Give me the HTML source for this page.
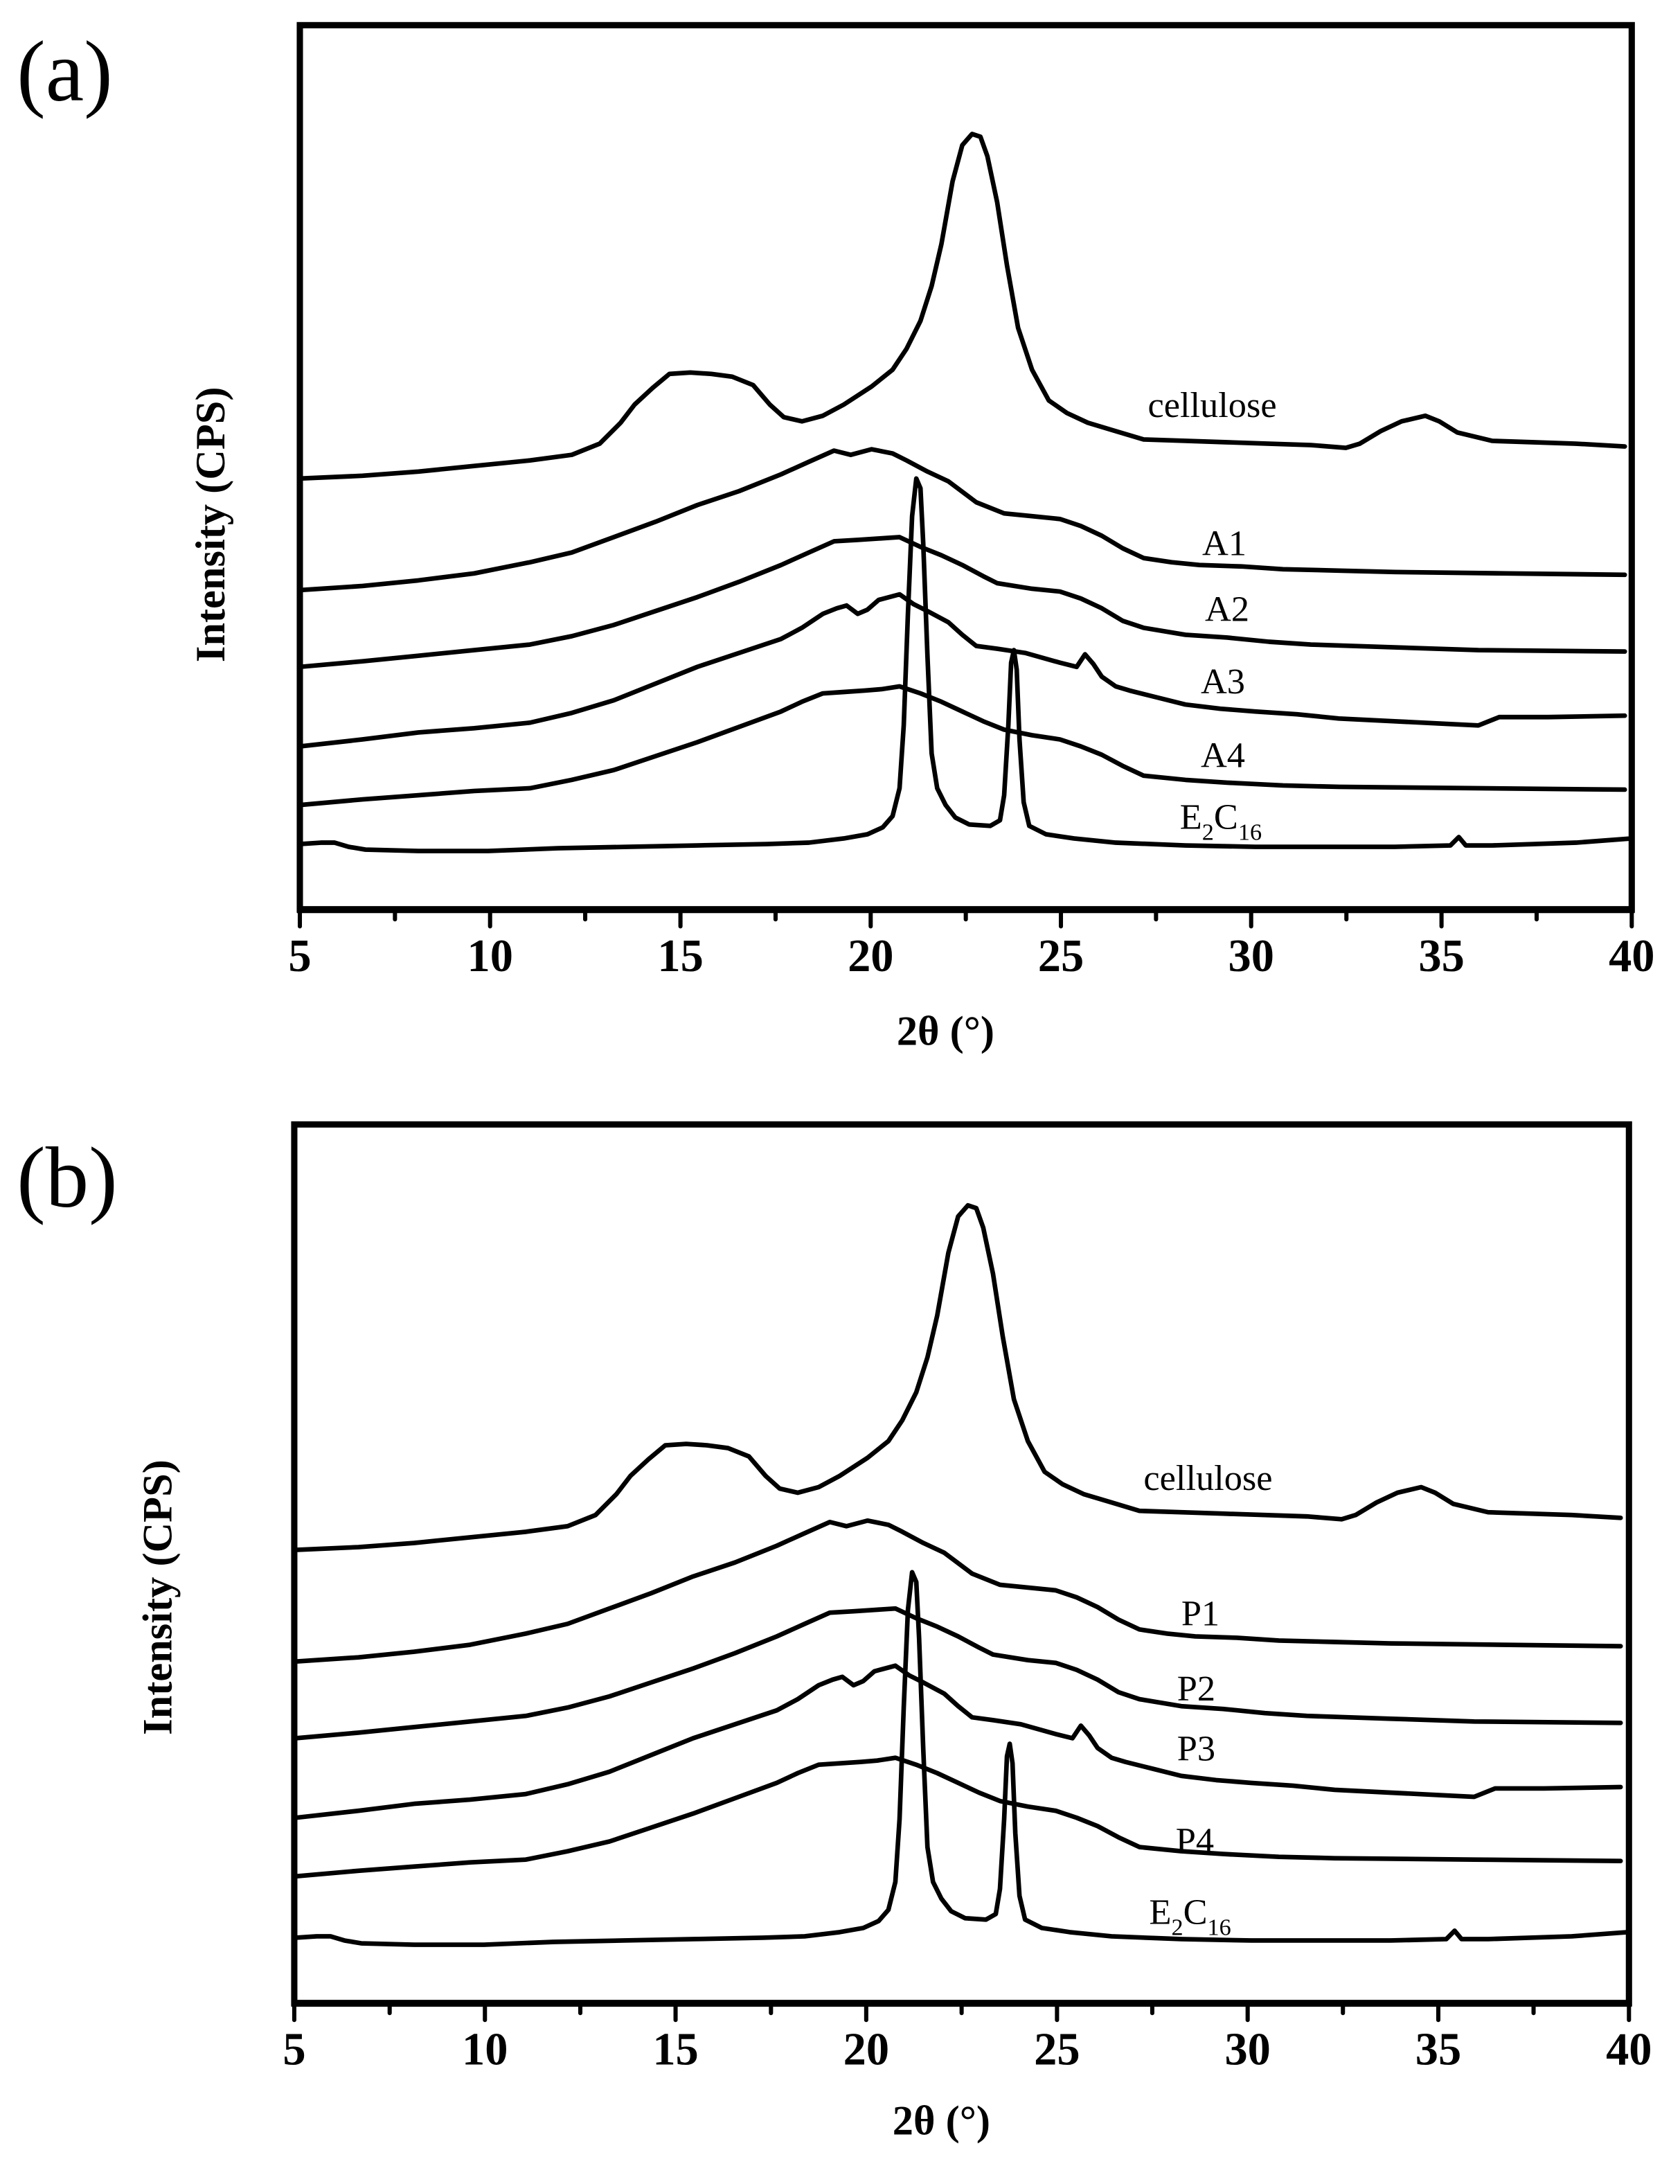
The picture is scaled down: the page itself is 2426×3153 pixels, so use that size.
<!DOCTYPE html>
<html><head><meta charset="utf-8"><style>
html,body{margin:0;padding:0;background:#fff}
svg{display:block}
text{font-family:"Liberation Serif",serif;fill:#000}
.tk{font-weight:bold;font-size:33px}
.lb{font-size:26px}
.ax{font-weight:bold;font-size:30px}
.c{fill:none;stroke:#000;stroke-width:3.3;stroke-linejoin:round;stroke-linecap:round}
</style></head><body>
<svg width="2426" height="3153" viewBox="0 0 1204.6 1565.5" xmlns="http://www.w3.org/2000/svg">
<defs>
<g id="curvesTop">
<polyline class="c" points="215,343 260,341 300,338 340,334 380,330 410,326 430,318 445,303 455,290 468,278 480,268 495,267 510,268 525,270 540,276 552,290 562,299 575,302 590,298 605,290 625,277 640,265 650,250 660,230 668,205 675,175 683,130 690,104 697,96 703,98 708,112 715,145 722,190 730,235 740,265 752,287 765,296 780,303 800,309 820,315 850,316 880,317 910,318 940,319 965,321 975,318 990,309 1005,302 1022,298 1032,302 1045,310 1070,316 1100,317 1130,318 1165,320"/>
<polyline class="c" points="215,423 260,420 300,416 340,411 380,403 410,396 440,385 470,374 500,362 530,352 560,340 580,331 598,323 610,326 625,322 640,325 650,330 665,338 680,345 700,360 720,368 740,370 760,372 775,377 790,384 805,393 820,400 840,403 860,405 890,406 920,408 960,409 1000,410 1080,411 1165,412"/>
<polyline class="c" points="215,478 260,474 300,470 340,466 380,462 410,456 440,448 470,438 500,428 530,417 560,405 580,396 598,388 615,387 630,386 645,385 660,392 675,398 690,405 705,413 715,418 740,422 760,424 775,429 790,436 805,445 820,450 850,455 880,457 910,460 940,462 1000,464 1060,466 1165,467"/>
<polyline class="c" points="215,535 260,530 300,525 340,522 380,518 410,511 440,502 470,490 500,478 530,468 560,458 575,450 590,440 600,436 607,434 615,440 622,437 630,430 645,426 655,433 665,438 680,446 690,455 700,463 715,465 735,468 760,475 772,478 778,469 784,476 790,485 800,492 810,495 830,500 850,505 875,508 900,510 930,512 960,515 1000,517 1040,519 1060,520 1075,514 1110,514 1165,513"/>
<polyline class="c" points="215,577 260,573 300,570 340,567 380,565 410,559 440,552 470,542 500,532 530,521 560,510 575,503 590,497 605,496 620,495 632,494 645,492 660,497 675,503 690,510 705,517 720,523 740,527 760,530 775,535 790,541 805,549 820,556 850,559 880,561 920,563 960,564 1060,565 1165,566"/>
</g>
<g id="curveE">
<polyline class="c" points="215,605 230,604 240,604 250,607 262,609 300,610 350,610 400,608 450,607 500,606 550,605 580,604 605,601 622,598 633,593 640,585 645,565 648,520 651,440 654,370 657,343 660,350 662,390 665,470 668,540 672,565 678,577 685,586 695,591 710,592 717,588 720,570 723,520 725,475 727,466 729,480 731,530 734,575 738,592 750,598 770,601 800,604 850,606 900,607 950,607 1000,607 1040,606 1046,600 1051,606 1070,606 1100,605 1130,604 1170,601"/>
</g>
</defs>

<!-- Panel (a) -->
<text x="12" y="72" style="font-size:62px">(a)</text>
<rect x="215" y="18" width="955" height="634" fill="none" stroke="#000" stroke-width="4.5"/>
<line x1="213" y1="652" x2="1172" y2="652" stroke="#000" stroke-width="5"/>
<g stroke="#000" stroke-width="3" stroke-linecap="round">
<line x1="215" y1="652" x2="215" y2="664"/><line x1="351.4" y1="652" x2="351.4" y2="664"/><line x1="487.9" y1="652" x2="487.9" y2="664"/><line x1="624.3" y1="652" x2="624.3" y2="664"/><line x1="760.7" y1="652" x2="760.7" y2="664"/><line x1="897.1" y1="652" x2="897.1" y2="664"/><line x1="1033.6" y1="652" x2="1033.6" y2="664"/><line x1="1170" y1="652" x2="1170" y2="664"/>
<line x1="283.2" y1="652" x2="283.2" y2="659"/><line x1="419.6" y1="652" x2="419.6" y2="659"/><line x1="556.1" y1="652" x2="556.1" y2="659"/><line x1="692.5" y1="652" x2="692.5" y2="659"/><line x1="828.9" y1="652" x2="828.9" y2="659"/><line x1="965.4" y1="652" x2="965.4" y2="659"/><line x1="1101.8" y1="652" x2="1101.8" y2="659"/>
</g>
<g text-anchor="middle">
<text class="tk" x="215" y="696">5</text><text class="tk" x="351.4" y="696">10</text><text class="tk" x="487.9" y="696">15</text><text class="tk" x="624.3" y="696">20</text><text class="tk" x="760.7" y="696">25</text><text class="tk" x="897.1" y="696">30</text><text class="tk" x="1033.6" y="696">35</text><text class="tk" x="1170" y="696">40</text>
</g>
<text class="ax" x="678" y="749" text-anchor="middle">2θ (°)</text>
<text class="ax" transform="translate(161,376) rotate(-90)" text-anchor="middle">Intensity (CPS)</text>
<use href="#curvesTop"/>
<use href="#curveE"/>
<text class="lb" x="823" y="299">cellulose</text>
<text class="lb" x="862" y="398">A1</text>
<text class="lb" x="864" y="445">A2</text>
<text class="lb" x="861" y="497">A3</text>
<text class="lb" x="861" y="550">A4</text>
<text class="lb" x="846" y="594">E<tspan font-size="17" dy="8">2</tspan><tspan dy="-8">C</tspan><tspan font-size="17" dy="8">16</tspan></text>

<!-- Panel (b) -->
<text x="12" y="865" style="font-size:62px">(b)</text>
<rect x="211" y="806" width="957" height="630" fill="none" stroke="#000" stroke-width="4.5"/>
<line x1="209" y1="1436" x2="1170" y2="1436" stroke="#000" stroke-width="5"/>
<g stroke="#000" stroke-width="3" stroke-linecap="round">
<line x1="211" y1="1436" x2="211" y2="1448"/><line x1="347.7" y1="1436" x2="347.7" y2="1448"/><line x1="484.4" y1="1436" x2="484.4" y2="1448"/><line x1="621.1" y1="1436" x2="621.1" y2="1448"/><line x1="757.9" y1="1436" x2="757.9" y2="1448"/><line x1="894.6" y1="1436" x2="894.6" y2="1448"/><line x1="1031.3" y1="1436" x2="1031.3" y2="1448"/><line x1="1168" y1="1436" x2="1168" y2="1448"/>
<line x1="279.4" y1="1436" x2="279.4" y2="1443"/><line x1="416.1" y1="1436" x2="416.1" y2="1443"/><line x1="552.8" y1="1436" x2="552.8" y2="1443"/><line x1="689.5" y1="1436" x2="689.5" y2="1443"/><line x1="826.2" y1="1436" x2="826.2" y2="1443"/><line x1="962.9" y1="1436" x2="962.9" y2="1443"/><line x1="1099.6" y1="1436" x2="1099.6" y2="1443"/>
</g>
<g text-anchor="middle">
<text class="tk" x="211" y="1480">5</text><text class="tk" x="347.7" y="1480">10</text><text class="tk" x="484.4" y="1480">15</text><text class="tk" x="621.1" y="1480">20</text><text class="tk" x="757.9" y="1480">25</text><text class="tk" x="894.6" y="1480">30</text><text class="tk" x="1031.3" y="1480">35</text><text class="tk" x="1168" y="1480">40</text>
</g>
<text class="ax" x="675" y="1530" text-anchor="middle">2θ (°)</text>
<text class="ax" transform="translate(123,1145) rotate(-90)" text-anchor="middle">Intensity (CPS)</text>
<g transform="translate(-3,768)"><use href="#curvesTop"/></g>
<g transform="translate(-3,784)"><use href="#curveE"/></g>
<text class="lb" x="820" y="1068">cellulose</text>
<text class="lb" x="847" y="1165">P1</text>
<text class="lb" x="844" y="1219">P2</text>
<text class="lb" x="844" y="1262">P3</text>
<text class="lb" x="843" y="1328">P4</text>
<text class="lb" x="824" y="1379">E<tspan font-size="17" dy="8">2</tspan><tspan dy="-8">C</tspan><tspan font-size="17" dy="8">16</tspan></text>
</svg>
</body></html>
